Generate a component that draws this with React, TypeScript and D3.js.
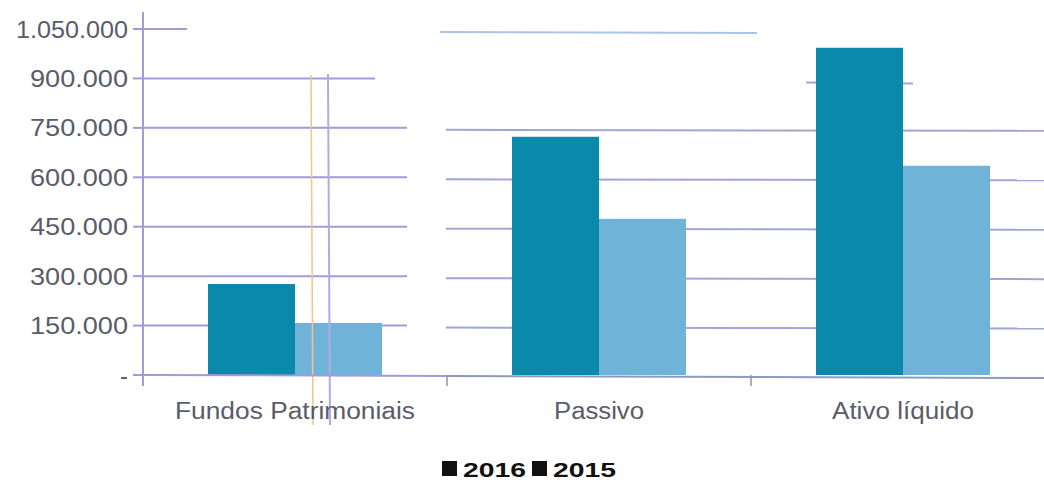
import React from "react";
import * as d3 from "d3";

const categories = ["Fundos Patrimoniais", "Passivo", "Ativo líquido"];
const seriesNames = ["2016", "2015"];
const values2016 = [276000, 723000, 993000];
const values2015 = [158000, 474000, 635000];
const yTicks = [0, 150000, 300000, 450000, 600000, 750000, 900000, 1050000];
const yTickLabels = ["-", "150.000", "300.000", "450.000", "600.000", "750.000", "900.000", "1.050.000"];

const W = 1044;
const H = 480;
const colors = ["#0a89aa", "#6fb3d9"];
const gridColor = "#a29ada";
const gridColorRight = "#9fa6d6";
const textColor = "#5a5c6a";

export default function App() {
  const axisX = 143;
  const y = d3.scaleLinear().domain([0, 1050000]).range([375, 29]);
  const x0 = d3.scaleBand<string>().domain(categories).range([axisX, 1055]).paddingInner(0).paddingOuter(0);
  const x1 = d3.scaleBand<string>().domain(seriesNames).range([65, x0.bandwidth() - 65]).padding(0);
  const series = [values2016, values2015];

  // broken gridline segments (as scanned)
  const gridSegs = (v: number): [number, number, number][] => {
    if (v === 1050000) return [[axisX, 187, 0], [440, 757, 3]];
    if (v === 900000) return [[axisX, 375, 0], [806, 913, 4]];
    if (v === 0) return [];
    return [[axisX, 407, 0], [446, W, 2]];
  };

  return (
    <svg width={W} height={H} style={{ position: "absolute", left: 0, top: 0, background: "#fff" }}
      fontFamily="'Liberation Sans', Arial, sans-serif">
      {/* gridlines */}
      {yTicks.map((t) =>
        gridSegs(t).map(([a, b, dy], i) => (
          <line key={`g${t}-${i}`} x1={a} x2={b} y1={y(t) + (i ? dy : 0)} y2={y(t) + (i ? dy + 1 : 0)}
            stroke={i && t === 1050000 ? "#a9c4e6" : i ? gridColorRight : gridColor} strokeWidth={2} />
        ))
      )}
      {/* bars */}
      {categories.map((c, ci) =>
        seriesNames.map((s, si) => (
          <rect key={`${c}-${s}`} x={(x0(c) as number) + (x1(s) as number)} y={y(series[si][ci])}
            width={x1.bandwidth()} height={y(0) - y(series[si][ci])} fill={colors[si]} />
        ))
      )}
      {/* scan artifacts */}
      <line x1={311} x2={313} y1={75} y2={425} stroke="#f3c58a" strokeWidth={1.5} />
      <line x1={328} x2={330} y1={74} y2={425} stroke="#b3a8e8" strokeWidth={2} />
      {/* y axis */}
      <line x1={axisX} x2={axisX} y1={12} y2={386} stroke={gridColor} strokeWidth={2} />
      {yTicks.map((t, i) => (
        <g key={`t${t}`}>
          <line x1={axisX - 10} x2={axisX} y1={y(t)} y2={y(t)} stroke={gridColor} strokeWidth={2} />
          <text x={axisX - 15} y={y(t)} dy="0.36em" textAnchor="end" fontSize={24} fill={textColor}
            textLength={i === 0 ? undefined : yTickLabels[i].length > 7 ? 112 : 98} lengthAdjust="spacingAndGlyphs">
            {yTickLabels[i]}
          </text>
        </g>
      ))}
      {/* x axis */}
      <line x1={axisX} x2={450} y1={y(0)} y2={y(0) + 1} stroke={gridColor} strokeWidth={2} />
      <line x1={450} x2={W} y1={y(0) + 1} y2={y(0) + 3} stroke="#8f99bf" strokeWidth={2} />
      {categories.slice(1).map((c) => (
        <line key={`xt${c}`} x1={x0(c) as number} x2={x0(c) as number} y1={y(0)} y2={y(0) + 11}
          stroke="#8e93a8" strokeWidth={1.5} />
      ))}
      {categories.map((c, i) => (
        <text key={`xl${c}`} x={(x0(c) as number) + x0.bandwidth() / 2} y={419} textAnchor="middle"
          fontSize={23} fill={textColor}
          textLength={[240, 90, 142][i]} lengthAdjust="spacingAndGlyphs">
          {c}
        </text>
      ))}
      {/* legend */}
      {seriesNames.map((s, i) => {
        const lx = [442, 532][i];
        return (
          <g key={`lg${s}`}>
            <rect x={lx} y={461} width={15} height={15} fill="#111" />
            <text x={lx + 21} y={477} fontSize={21} fontWeight="bold" fill="#111"
              textLength={63} lengthAdjust="spacingAndGlyphs">{s}</text>
          </g>
        );
      })}
    </svg>
  );
}
